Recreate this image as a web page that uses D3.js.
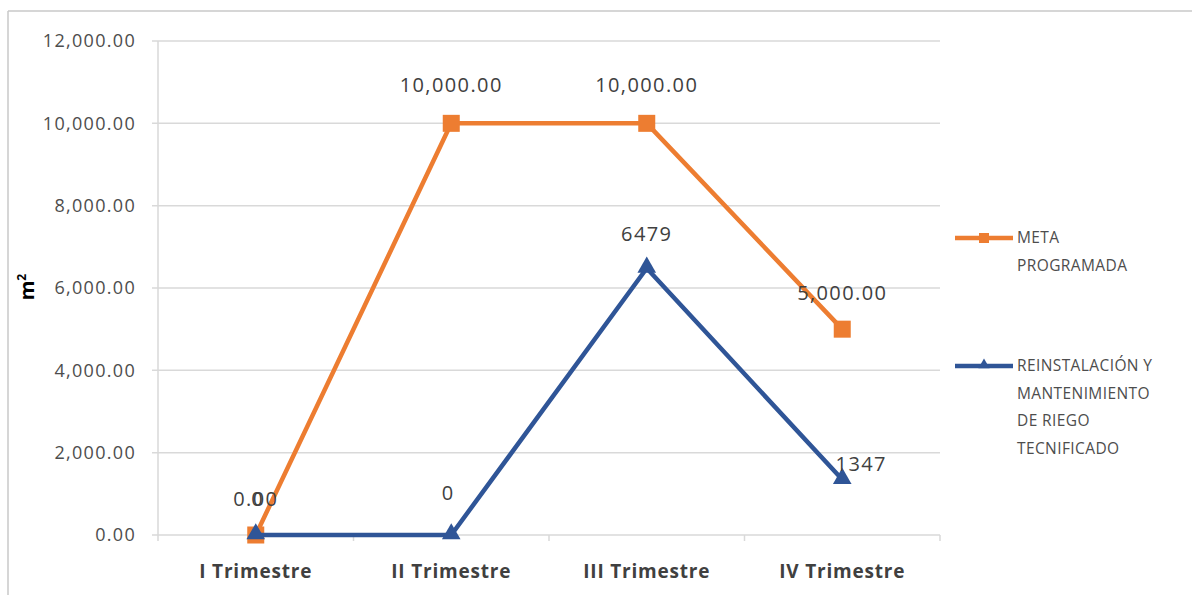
<!DOCTYPE html>
<html>
<head>
<meta charset="utf-8">
<script src="https://cdn.jsdelivr.net/npm/d3@7"></script>
<style>
  body { margin: 0; background: #fff; }
  text { font-family: "Open Sans", "Liberation Sans", sans-serif; }
</style>
</head>
<body>
<script>
// DATA
var quarters = ["I Trimestre", "II Trimestre", "III Trimestre", "IV Trimestre"];
var metaProgramada = [0, 10000, 10000, 5000];
var reinstalacion = [0, 0, 6479, 1347];
var yTicks = [0, 2000, 4000, 6000, 8000, 10000, 12000];
var seriesNames = ["META PROGRAMADA", "REINSTALACIÓN Y MANTENIMIENTO DE RIEGO TECNIFICADO"];

// label nudges (px above the point), as placed in the original
var metaLabelDy = [-36, -38, -38, -36];
var reinLabelDy = [-36, -42, -34, -16];
var reinLabelDx = [2, -3, 0, 19];

var svg = d3.select("body")
    .append("svg")
    .attr("width", 1192)
    .attr("height", 595);

// outer chart frame
svg.append("line").attr("x1", 8).attr("x2", 1192).attr("y1", 11).attr("y2", 11)
    .attr("stroke", "#c8c8c8").attr("stroke-width", 1.5);
svg.append("line").attr("x1", 8).attr("x2", 8).attr("y1", 11).attr("y2", 595)
    .attr("stroke", "#c8c8c8").attr("stroke-width", 1.5);

const margin = {top: 41, left: 158};
const width = 782;
const height = 494;

const xScale = d3.scaleBand()
    .domain(quarters)
    .range([0, width]);

const yScale = d3.scaleLinear()
    .domain([0, 12000])
    .range([height, 0]);

const g = svg.append("g")
    .attr("transform", "translate(" + margin.left + "," + margin.top + ")");

// gridlines
g.append("g").selectAll("line").data(yTicks)
    .enter().append("line")
    .attr("x1", -6).attr("x2", width)
    .attr("y1", d => yScale(d)).attr("y2", d => yScale(d))
    .attr("stroke", "#d9d9d9").attr("stroke-width", 1.5);

// y axis line
g.append("line").attr("x1", 0).attr("x2", 0).attr("y1", 0).attr("y2", height)
    .attr("stroke", "#d9d9d9").attr("stroke-width", 1.5);

// y tick labels
const fmt = d3.format(",.2f");
g.append("g").selectAll("text").data(yTicks)
    .enter().append("text")
    .attr("x", -22)
    .attr("y", d => yScale(d))
    .attr("dy", "0.35em")
    .attr("text-anchor", "end")
    .attr("fill", "#4d4d4d")
    .style("font-size", "18px")
    .style("letter-spacing", "1.3px")
    .text(d => fmt(d));

// x axis ticks at band edges
var edges = quarters.map(q => xScale(q)).concat([width]);
g.append("g").selectAll("line").data(edges)
    .enter().append("line")
    .attr("x1", d => d).attr("x2", d => d)
    .attr("y1", height).attr("y2", height + 6)
    .attr("stroke", "#d9d9d9").attr("stroke-width", 1.5);

// x labels
g.append("g").selectAll("text").data(quarters)
    .enter().append("text")
    .attr("x", d => xScale(d) + xScale.bandwidth() / 2)
    .attr("y", height + 43)
    .attr("text-anchor", "middle")
    .attr("fill", "#404040")
    .style("font-size", "19px")
    .style("font-weight", "bold")
    .style("letter-spacing", "0.8px")
    .text(d => d);

// y title
svg.append("text")
    .attr("transform", "translate(34,287) rotate(-90)")
    .attr("text-anchor", "middle")
    .attr("fill", "#000")
    .style("font-size", "20px")
    .style("font-weight", "bold")
    .html('m<tspan dy="-8" style="font-size:12px">2</tspan>');

const cx = (i) => xScale(quarters[i]) + xScale.bandwidth() / 2;
const line = d3.line().x((d, i) => cx(i)).y(d => yScale(d));

const orange = "#ED7D31";
const blue = "#2F5597";

// META line
g.append("path").datum(metaProgramada)
    .attr("d", line).attr("fill", "none")
    .attr("stroke", orange).attr("stroke-width", 4.5)
    .attr("stroke-linejoin", "round");
g.append("g").selectAll("rect").data(metaProgramada)
    .enter().append("rect")
    .attr("x", (d, i) => cx(i) - 8.5)
    .attr("y", d => yScale(d) - 8.5)
    .attr("width", 17).attr("height", 17)
    .attr("fill", orange);

// REINSTALACION line
g.append("path").datum(reinstalacion)
    .attr("d", line).attr("fill", "none")
    .attr("stroke", blue).attr("stroke-width", 4.5)
    .attr("stroke-linejoin", "round");
const tri = d3.symbol().type(d3.symbolTriangle).size(150);
g.append("g").selectAll("path").data(reinstalacion)
    .enter().append("path")
    .attr("d", tri)
    .attr("transform", (d, i) => "translate(" + cx(i) + "," + (yScale(d) - 1) + ")")
    .attr("fill", blue);

// data labels
g.append("g").selectAll("text").data(metaProgramada)
    .enter().append("text")
    .attr("x", (d, i) => cx(i))
    .attr("y", (d, i) => yScale(d) + metaLabelDy[i])
    .attr("dy", "0.35em")
    .attr("text-anchor", "middle")
    .attr("fill", "#404040")
    .style("font-size", "20px")
    .style("letter-spacing", "1.4px")
    .text(d => fmt(d));

g.append("g").selectAll("text").data(reinstalacion)
    .enter().append("text")
    .attr("x", (d, i) => cx(i) + reinLabelDx[i])
    .attr("y", (d, i) => yScale(d) + reinLabelDy[i])
    .attr("dy", "0.35em")
    .attr("text-anchor", "middle")
    .attr("fill", "#404040")
    .style("font-size", "20px")
    .style("letter-spacing", "1.4px")
    .text(d => d);

// legend
var legendLines = [["META", "PROGRAMADA"], ["REINSTALACIÓN Y", "MANTENIMIENTO", "DE RIEGO", "TECNIFICADO"]];
var legendY = [238, 366];
var legendColors = [orange, blue];
var leg = svg.append("g");
seriesNames.forEach(function(name, k) {
    var y = legendY[k];
    leg.append("line").attr("x1", 955).attr("x2", 1013).attr("y1", y).attr("y2", y)
        .attr("stroke", legendColors[k]).attr("stroke-width", 4.5);
    if (k === 0) {
        leg.append("rect").attr("x", 979).attr("y", y - 5).attr("width", 10).attr("height", 10)
            .attr("fill", orange);
    } else {
        leg.append("path").attr("d", d3.symbol().type(d3.symbolTriangle).size(55))
            .attr("transform", "translate(984," + (y - 1) + ")").attr("fill", blue);
    }
    var t = leg.append("text")
        .attr("x", 1017).attr("y", y)
        .attr("fill", "#4d4d4d")
        .style("font-size", "15.5px")
        .style("letter-spacing", "0.4px");
    legendLines[k].forEach(function(s, j) {
        t.append("tspan").attr("x", 1017).attr("dy", j === 0 ? "0.35em" : "27.5px").text(s);
    });
});
</script>
</body>
</html>
